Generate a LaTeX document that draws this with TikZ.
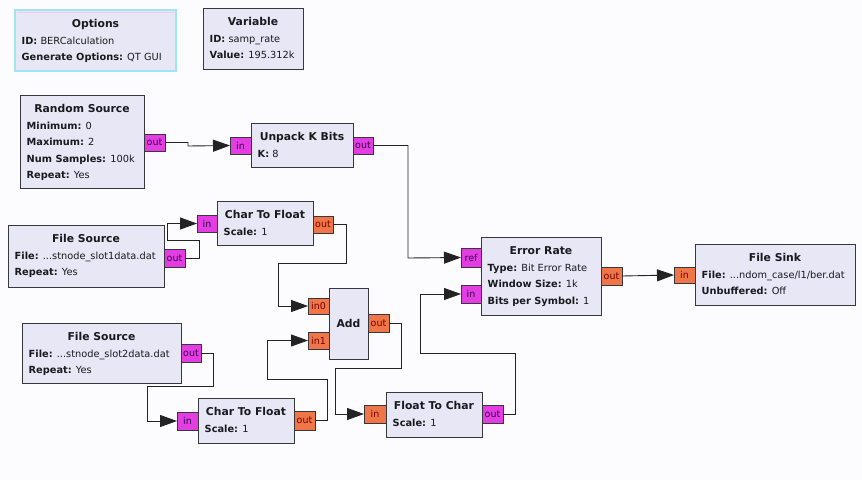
\documentclass[tikz,border=0pt]{standalone}
\usepackage{fontspec}
\setmainfont{DejaVu Sans}
\usetikzlibrary{arrows.meta,calc}
\definecolor{bgc}{RGB}{252,252,254}
\definecolor{blkfill}{RGB}{231,231,245}
\definecolor{blkline}{RGB}{55,55,60}
\definecolor{magport}{RGB}{226,62,226}
\definecolor{orport}{RGB}{238,118,72}
\definecolor{magtext}{RGB}{60,0,80}
\definecolor{ortext}{RGB}{120,0,0}
\definecolor{optline}{RGB}{160,230,242}
\definecolor{optpink}{RGB}{245,200,235}
\definecolor{wirec}{RGB}{35,35,35}
\definecolor{txt}{RGB}{25,25,30}
\newcommand\threedots{.{}.{}.}
\tikzset{
  blk/.style={draw=blkline, fill=blkfill, line width=0.9pt, inner sep=0pt, outer sep=0pt, anchor=north west},
  optblk/.style={draw=optline, fill=blkfill, line width=1.3pt, inner sep=0pt, outer sep=0pt, anchor=north west},
  ttl/.style={font=\fontsize{10.8}{13}\selectfont\bfseries, text=txt, inner sep=0pt, anchor=base},
  prm/.style={font=\fontsize{9.8}{12}\selectfont, text=txt, inner sep=0pt, anchor=base west},
  portbase/.style={draw=blkline, line width=0.7pt, inner sep=0pt, outer sep=0pt, anchor=north west, font=\fontsize{9.5}{11}\selectfont},
  portm/.style={portbase, fill=magport, text=magtext},
  porto/.style={portbase, fill=orport, text=ortext},
  wire/.style={draw=wirec, line width=0.9pt, -{Triangle[length=17pt,width=12pt]}}
}
% #1 style, #2 name, #3 x, #4 y, #5 w, #6 h, #7 title, #8 params
\newcommand\gblock[8]{%
  \node[#1, minimum width=#5pt, minimum height=#6pt] (#2) at (#3,#4) {};
  \node[ttl] (#2-t) at ($(#2.north)+(0,17.5)$) {#7};
  \foreach \ln [count=\i] in {#8} {\node[prm] (#2-\i) at ($(#2.north west)+(6.5,17.5+16.5*\i)$) {\ln};}
}
% #1 style, #2 name, #3 x, #4 y, #5 w, #6 h, #7 label
\newcommand\gport[7]{%
  \node[#1, minimum width=#5pt, minimum height=#6pt] (#2) at (#3,#4) {#7};
}
\begin{document}
\begin{tikzpicture}[x=1pt,y=-1pt]
\fill[bgc] (0,0) rectangle (862,480);
\useasboundingbox (0,0) rectangle (862,480);

% blocks
\gblock{optblk}{opt}{15}{10}{161}{61}{Options}{\textbf{ID:} BERCalculation, \textbf{Generate Options:} QT GUI}
\draw[optpink, line width=1.2pt] ($(opt.north west)+(2,2.5)$) -- ($(opt.north east)+(-2,2.5)$);
\gblock{blk}{var}{203}{8}{100}{61}{Variable}{\textbf{ID:} samp\_rate, \textbf{Value:} 195.312k}
\gblock{blk}{rs}{20}{95}{124}{93}{Random Source}{\textbf{Minimum:} 0, \textbf{Maximum:} 2, \textbf{Num Samples:} 100k, \textbf{Repeat:} Yes}
\gblock{blk}{up}{251}{123}{102}{44}{Unpack K Bits}{\textbf{K:} 8}
\gblock{blk}{fsa}{8}{225}{156}{62}{File Source}{\textbf{File:} \threedots stnode\_slot1data.dat, \textbf{Repeat:} Yes}
\gblock{blk}{cfa}{217}{201}{96}{44}{Char To Float}{\textbf{Scale:} 1}
\node[blk, minimum width=39pt, minimum height=71pt] (add) at (329,288) {};
\node[ttl, anchor=center] (add-t) at (add.center) {Add};
\gblock{blk}{fsb}{22}{323}{159}{60}{File Source}{\textbf{File:} \threedots stnode\_slot2data.dat, \textbf{Repeat:} Yes}
\gblock{blk}{cfb}{198}{398}{96}{45}{Char To Float}{\textbf{Scale:} 1}
\gblock{blk}{fc}{386}{392}{96}{45}{Float To Char}{\textbf{Scale:} 1}
\gblock{blk}{er}{481}{237}{120}{78}{Error Rate}{\textbf{Type:} Bit Error Rate, \textbf{Window Size:} 1k, \textbf{Bits per Symbol:} 1}
\gblock{blk}{fk}{695}{244}{160}{61}{File Sink}{\textbf{File:} \threedots ndom\_case/l1/ber.dat, \textbf{Unbuffered:} Off}

% ports
\gport{portm}{rsout}{144}{134}{21}{17}{out}
\gport{portm}{upin}{230}{137}{21}{17}{in}
\gport{portm}{upout}{353}{137}{20}{17}{out}
\gport{portm}{fsaout}{164}{249}{21}{18}{out}
\gport{portm}{cfain}{197}{215}{20}{17}{in}
\gport{porto}{cfaout}{313}{216}{20}{17}{out}
\gport{porto}{addina}{308}{298}{21}{16}{in0}
\gport{porto}{addinb}{308}{332}{21}{17}{in1}
\gport{porto}{addout}{368}{314}{21}{18}{out}
\gport{portm}{fsbout}{181}{344}{20}{18}{out}
\gport{portm}{cfbin}{177}{412}{21}{18}{in}
\gport{porto}{cfbout}{294}{411}{21}{19}{out}
\gport{porto}{fcin}{364}{405}{22}{18}{in}
\gport{portm}{fcout}{482}{405}{21}{18}{out}
\gport{portm}{erref}{461}{248}{20}{19}{ref}
\gport{portm}{erin}{461}{285}{20}{18}{in}
\gport{porto}{erout}{601}{267}{21}{18}{out}
\gport{porto}{fkin}{674}{267}{21}{16}{in}

% wires
\coordinate (wa) at (188,146);
\coordinate (wb) at (408,258);
\coordinate (wc1) at (167,240);
\coordinate (wd) at (278,263);
\coordinate (we) at (267,379);
\coordinate (wf) at (335,368);
\coordinate (wg) at (420,353);
\coordinate (wh) at (147,386);

\draw[wire] (rsout.east) -| (wa) -- (upin.west);
\draw[wire] (upout.east) -| (wb) -- (erref.west);
\draw[wire] (fsaout.east) -- ++(14,0) |- (wc1) |- (cfain.west);
\draw[wire] (cfaout.east) -- ++(13,0) |- (wd) |- (addina.west);
\draw[wire] (cfbout.east) -- ++(12,0) |- (we) |- (addinb.west);
\draw[wire] (addout.east) -- ++(12,0) |- (wf) |- (fcin.west);
\draw[wire] (fcout.east) -- ++(12,0) |- (wg) |- (erin.west);
\draw[wire] (fsbout.east) -- ++(12,0) |- (wh) |- (cfbin.west);
\draw[wire] (erout.east) -- (fkin.west);
\end{tikzpicture}
\end{document}
